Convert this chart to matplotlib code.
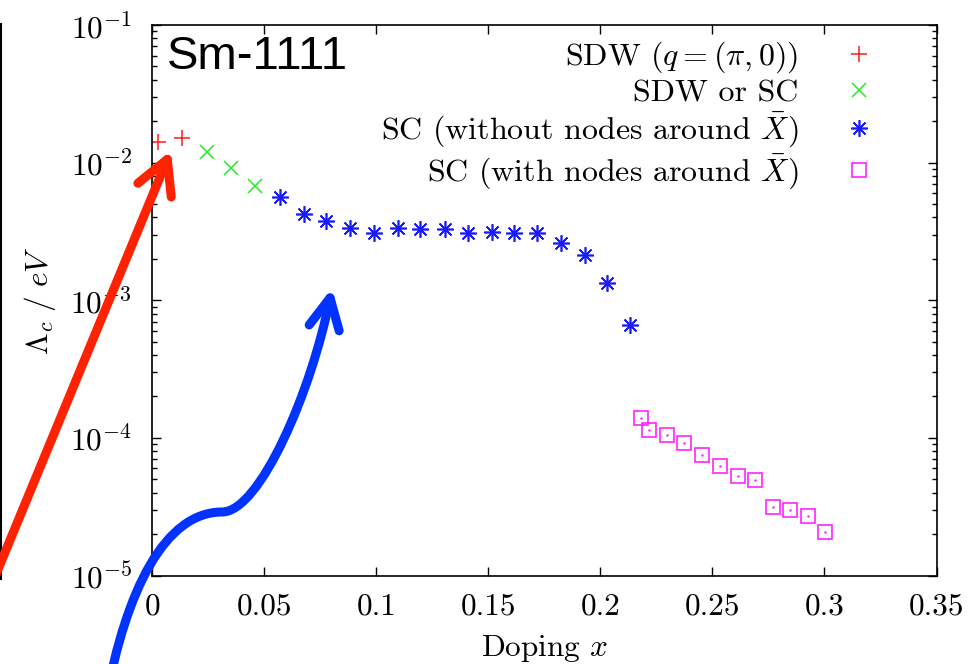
import matplotlib
matplotlib.use("Agg")
import matplotlib.pyplot as plt
from matplotlib.patches import FancyArrowPatch
from matplotlib.path import Path
from matplotlib.lines import Line2D

plt.rcParams['font.family'] = 'serif'
plt.rcParams['font.serif'] = ['cmr10', 'DejaVu Serif']
plt.rcParams['mathtext.fontset'] = 'cm'
plt.rcParams['axes.formatter.use_mathtext'] = True

# data
x_sdw = [0.0025, 0.0134]
y_sdw = [0.0142, 0.0150]

x_mix = [0.0244, 0.0352, 0.0457]
y_mix = [0.0120, 0.0091, 0.0068]

x_sc = [0.0568, 0.0675, 0.0777, 0.0884, 0.0988, 0.1096, 0.1196, 0.1305,
        0.1409, 0.1518, 0.1614, 0.1719, 0.1826, 0.1930, 0.2028, 0.2131]
y_sc = [0.00560, 0.00423, 0.00378, 0.00333, 0.00310, 0.00333, 0.00329, 0.00329,
        0.00306, 0.00315, 0.00306, 0.00306, 0.00262, 0.00213, 0.00133, 0.00066]

x_node = [0.2179, 0.2219, 0.2296, 0.2373, 0.2455, 0.2533, 0.2613, 0.2692,
          0.2769, 0.2846, 0.2925, 0.3003]
y_node = [1.40e-4, 1.15e-4, 1.05e-4, 9.16e-5, 7.53e-5, 6.20e-5, 5.30e-5, 4.93e-5,
          3.14e-5, 2.98e-5, 2.71e-5, 2.08e-5]

labels = [r'SDW $(q=(\pi,0))$', 'SDW or SC',
          r'SC (without nodes around $\bar{X}$)', r'SC (with nodes around $\bar{X}$)']
xticks = [0, 0.05, 0.1, 0.15, 0.2, 0.25, 0.3, 0.35]
xticklabels = ['0', '0.05', '0.1', '0.15', '0.2', '0.25', '0.3', '0.35']

W, H = 971, 664
fig = plt.figure(figsize=(W / 100, H / 100), dpi=100)
ax = fig.add_axes([152.3 / W, 1 - 575.5 / H, (936.5 - 152.3) / W, (575.5 - 25) / H])

ax.plot(x_sdw, y_sdw, ls='none', marker='+', ms=11, mew=1.1, color='#ff1a1a', label=labels[0])
ax.plot(x_mix, y_mix, ls='none', marker='x', ms=10, mew=1.1, color='#22ee22', label=labels[1])
ax.plot(x_sc, y_sc, ls='none', marker=(8, 2, 0), ms=12, mew=1.2, color='#1a1aff', label=labels[2])
ax.plot(x_node, y_node, ls='none', marker='s', ms=9.5, mew=1.2, mfc='none', color='#ff22ff', label=labels[3])
ax.plot(x_node, y_node, ls='none', marker='.', ms=1.5, color='#ff22ff')

ax.set_yscale('log')
ax.set_xlim(0, 0.35)
ax.set_ylim(1e-5, 1e-1)
ax.set_xticks(xticks)
ax.set_xticklabels(xticklabels)
ax.tick_params(which='both', direction='in', top=True, right=True, labelsize=22.5)
ax.tick_params(which='major', length=6.5, width=1)
ax.tick_params(which='minor', length=3.5, width=1)
ax.tick_params(axis='x', pad=12)
ax.tick_params(axis='y', pad=14.5)
for s in ax.spines.values():
    s.set_linewidth(1.2)

ax.set_xlabel(r'Doping $x$', fontsize=22.5, labelpad=9)
ax.set_ylabel(r'$\Lambda_c\ /\ eV$', fontsize=22.5, labelpad=9)

ax.legend(loc='upper right', bbox_to_anchor=(0.922, 0.973), frameon=False, markerfirst=False,
          fontsize=23, numpoints=1, handlelength=1.0, handletextpad=1.41,
          borderpad=0, borderaxespad=0, labelspacing=0.11)

ax.text(0.019, 0.942, 'Sm-1111', transform=ax.transAxes, family='Liberation Sans',
        fontsize=34, va='center', ha='left')


def px(x, y):
    return (x / W, 1 - y / H)


# left edge line from neighbouring panel
fig.add_artist(Line2D([0.6 / W, 0.6 / W], [1 - 24 / H, 1 - 579 / H], transform=fig.transFigure,
                      color='black', lw=1.5))

# red annotation arrow
red = FancyArrowPatch(px(-25, 625), px(172, 148), transform=fig.transFigure,
                      arrowstyle='->, head_length=24, head_width=13', mutation_scale=1,
                      color='#ff2200', lw=6.5, capstyle='round', joinstyle='round', zorder=5)
fig.add_artist(red)

# blue curved annotation arrow
verts = [px(106, 700), px(126, 590), px(165, 512), px(222, 512),
         px(260, 512), px(312, 390), px(332, 288)]
codes = [Path.MOVETO, Path.CURVE4, Path.CURVE4, Path.CURVE4,
         Path.CURVE4, Path.CURVE4, Path.CURVE4]
blue = FancyArrowPatch(path=Path(verts, codes), transform=fig.transFigure,
                       arrowstyle='->, head_length=22, head_width=11', mutation_scale=1,
                       color='#0033ff', lw=6.5, capstyle='round', joinstyle='round', zorder=5)
fig.add_artist(blue)

fig.savefig('out.png', dpi=100)
